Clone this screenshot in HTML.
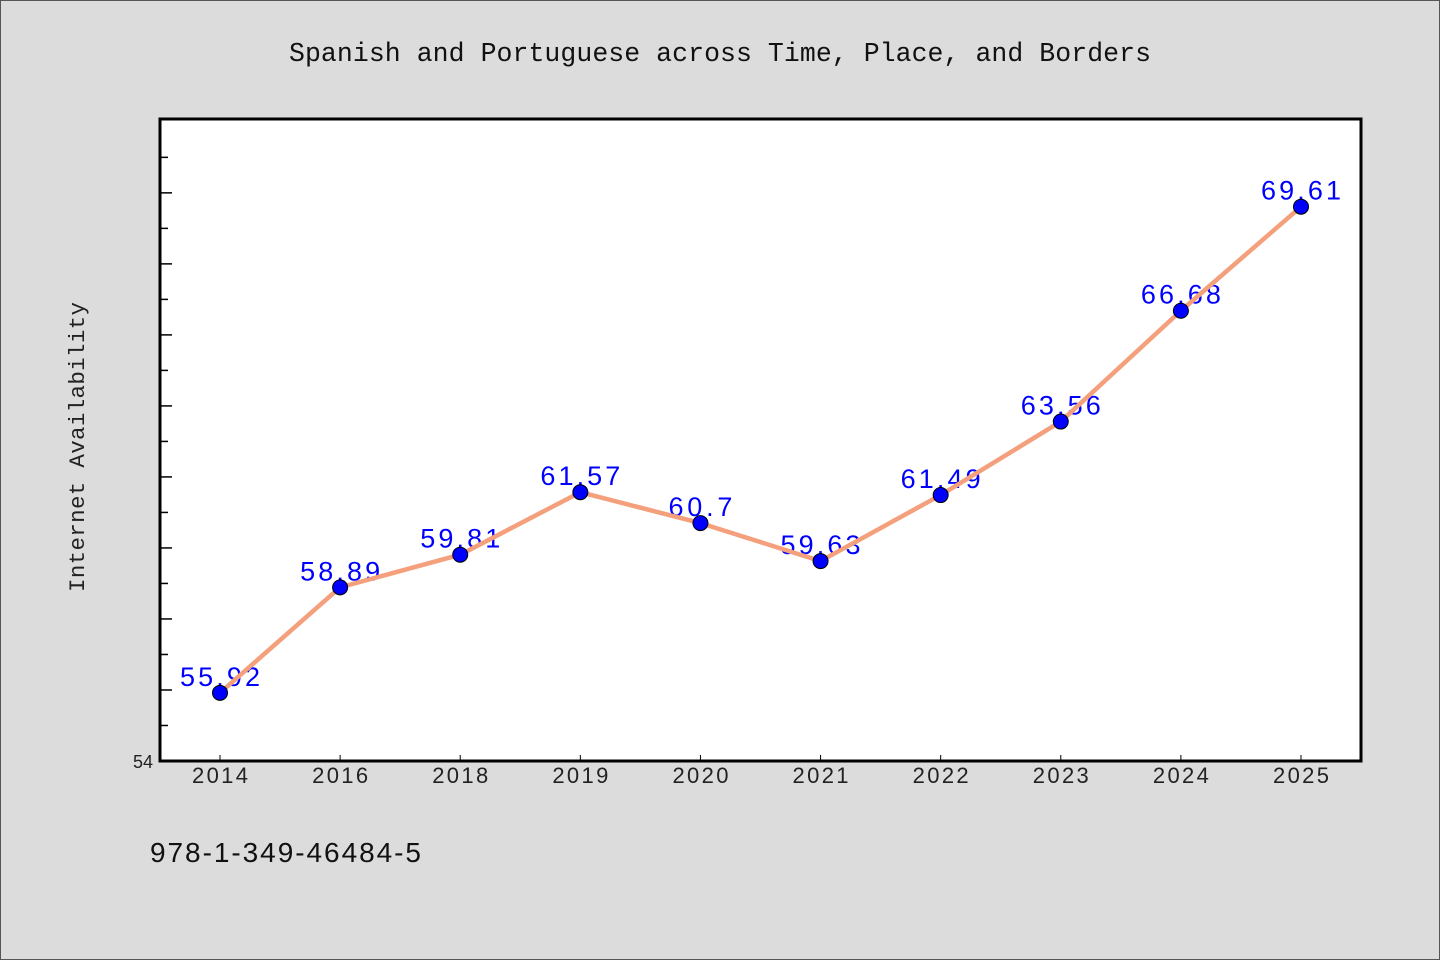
<!DOCTYPE html>
<html><head><meta charset="utf-8"><style>
html,body{margin:0;padding:0;background:#dcdcdc}
svg{display:block}
</style></head><body>
<svg id="chart" width="1440" height="960" xmlns="http://www.w3.org/2000/svg">
<rect x="0.5" y="0.5" width="1439" height="959" fill="#dcdcdc" stroke="#555"/>
<text x="720" y="61" text-anchor="middle" textLength="862" font-family="Liberation Mono, monospace" font-size="26.5" fill="#111">Spanish and Portuguese across Time, Place, and Borders</text>
<rect x="160" y="119" width="1201" height="642" fill="#fff"/>
<g id="yticks"></g>
<g id="xaxis"></g>
<g id="labels"></g>
<g id="series"></g>
<rect x="160" y="119" width="1201" height="642" fill="none" stroke="#000" stroke-width="3"/>
<text x="153" y="768" text-anchor="end" font-family="Liberation Sans, sans-serif" font-size="18" fill="#222">54</text>
<text transform="translate(84,447) rotate(-90)" text-anchor="middle" textLength="290" font-family="Liberation Mono, monospace" font-size="22.5" fill="#222">Internet Availability</text>
<text x="150" y="862" textLength="271" font-family="Liberation Sans, sans-serif" font-size="28" fill="#111">978-1-349-46484-5</text>
</svg>
<script>
const categories=["2014","2016","2018","2019","2020","2021","2022","2023","2024","2025"];
const values=[55.92,58.89,59.81,61.57,60.7,59.63,61.49,63.56,66.68,69.61];
const valueLabels=["55.92","58.89","59.81","61.57","60.7","59.63","61.49","63.56","66.68","69.61"];
const yMin=54, yMax=72.08;
const L=160,R=1361,T=119,B=761;
const NS="http://www.w3.org/2000/svg";
function yS(v){return B-(v-yMin)/(yMax-yMin)*(B-T);}
function xS(i){return L+60+i*(R-L-120)/(categories.length-1);}
function mk(tag,a,parent){const e=document.createElementNS(NS,tag);for(const k in a)e.setAttribute(k,a[k]);parent.appendChild(e);return e;}
const yt=document.getElementById('yticks');
for(let v=55;v<=71;v++){
  const t=mk('line',{x1:L,x2:L+(v%2===0?12:8),y1:yS(v),y2:yS(v),stroke:'#000','stroke-width':1.5},yt);
  
  
}
const xa=document.getElementById('xaxis');
categories.forEach((c,i)=>{
  const t=mk('line',{x1:xS(i),x2:xS(i),y1:B,y2:B-6,stroke:'#000','stroke-width':1},xa);
  
  
  const lb=mk('text',{x:xS(i),y:B+22,'text-anchor':'middle',textLength:56,'font-family':'Liberation Sans, sans-serif','font-size':22,fill:'#222'},xa);
  lb.textContent=c;
  
  
});
const lg=document.getElementById('labels');
values.forEach((v,i)=>{
  const s=valueLabels[i];
  const t=mk('text',{x:xS(i),y:yS(v)-7,'text-anchor':'middle',textLength:s.length*16,'font-family':'Liberation Sans, sans-serif','font-size':27,fill:'#0000ff'},lg);
  t.textContent=s;
  
  
});
const sg=document.getElementById('series');
const pts=values.map((v,i)=>xS(i)+','+yS(v)).join(' ');
const pl=mk('polyline',{points:pts,fill:'none',stroke:'#f4a07c','stroke-width':4.5,'stroke-linejoin':'round'},sg);


values.forEach((v,i)=>{
  const c=mk('circle',{cx:xS(i),cy:yS(v),r:7.5,fill:'#0000ff',stroke:'#000','stroke-width':1},sg);
  
  
});
</script>
</body></html>
